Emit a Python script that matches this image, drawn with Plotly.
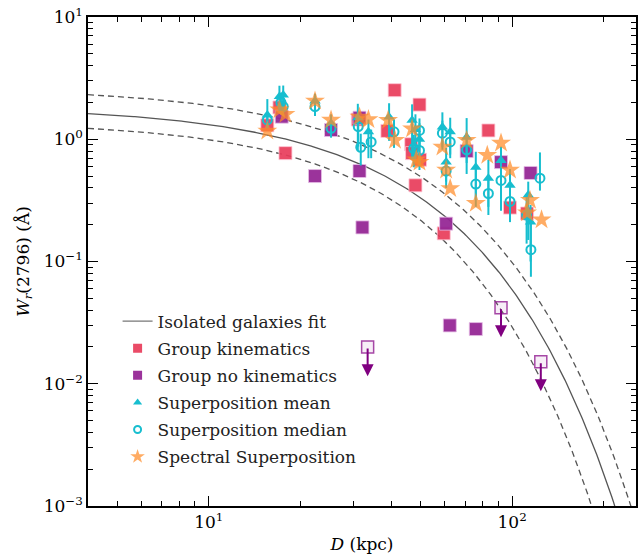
import numpy as np
import plotly.graph_objects as go

# ---------------- data ----------------
# Group kinematics (filled red squares)
gk_D = [15.6, 17.1, 17.9, 31.0, 38.8, 41.0, 46.5, 46.8, 48.0, 49.5, 49.7, 59.5, 83.5, 98.4, 112.0]
gk_W = [1.30, 1.82, 0.77, 1.45, 1.17, 2.52, 0.91, 0.77, 0.42, 1.92, 0.68, 0.17, 1.18, 0.276, 0.247]

# Group no kinematics (filled purple squares)
gn_D = [17.4, 22.4, 25.3, 31.4, 31.4, 32.1, 60.6, 62.3, 70.8, 75.9, 91.9, 115.0]
gn_W = [1.53, 0.50, 1.19, 1.50, 0.55, 0.19, 0.204, 0.030, 0.80, 0.028, 0.65, 0.53]

# Group no kinematics upper limits (open squares with arrows)
gl_D = [33.4, 91.9, 124.3]
gl_W = [0.0200, 0.0418, 0.0151]

# Superposition mean (triangles) with error bars
sm_D = [15.6, 17.1, 17.6, 22.4, 25.3, 31.0, 33.6, 39.3, 46.8, 48.0, 49.5, 58.9, 60.6, 62.5,
        70.8, 75.9, 83.5, 91.9, 98.4, 113.0, 115.0]
sm_W = [1.58, 2.24, 2.30, 2.06, 1.35, 1.50, 1.15, 1.52, 1.43, 1.20, 1.00, 1.26, 0.65, 1.15,
        1.04, 0.59, 0.48, 0.67, 0.42, 0.35, 0.21]
sm_up = [0.55, 0.50, 0.45, 0.30, 0.25, 0.45, 0.30, 0.45, 0.50, 0.40, 0.35, 0.40, 0.20, 0.35,
         0.45, 0.20, 0.20, 0.20, 0.15, 0.10, 0.08]
sm_dn = [0.35, 0.60, 0.55, 0.35, 0.25, 0.70, 0.45, 0.55, 0.75, 0.55, 0.40, 0.40, 0.25, 0.40,
         0.40, 0.25, 0.20, 0.40, 0.15, 0.20, 0.11]

# Superposition median (open circles)
sd_D = [15.6, 17.3, 17.6, 22.4, 25.3, 31.1, 31.7, 34.3, 40.8, 47.4, 49.5, 49.5, 58.9, 62.5,
        60.6, 70.8, 75.9, 83.5, 91.9, 98.4, 111.6, 115.3, 123.5]
sd_W = [1.44, 2.00, 1.85, 1.85, 1.23, 1.27, 0.86, 0.95, 1.15, 0.84, 1.18, 0.81, 1.12, 0.95,
        0.55, 0.82, 0.43, 0.36, 0.46, 0.31, 0.24, 0.125, 0.48]
sd_up = [0.20, 0.40, 0.30, 0.30, 0.20, 0.30, 0.25, 0.25, 0.30, 0.25, 0.30, 0.25, 0.30, 0.25,
         0.10, 0.30, 0.15, 0.12, 0.20, 0.10, 0.10, 0.09, 0.30]
sd_dn = [0.20, 0.40, 0.30, 0.30, 0.20, 0.40, 0.25, 0.25, 0.30, 0.25, 0.30, 0.25, 0.30, 0.25,
         0.10, 0.30, 0.15, 0.12, 0.20, 0.10, 0.10, 0.05, 0.10]

# Spectral superposition (stars)
ss_D = [15.6, 17.1, 17.9, 22.4, 25.3, 31.4, 33.6, 39.0, 41.1, 46.8, 48.3, 49.5, 58.9, 60.6,
        62.5, 70.8, 75.9, 82.8, 91.9, 98.4, 114.5, 112.0, 125.0]
ss_W = [1.17, 1.74, 1.60, 2.06, 1.44, 1.52, 1.45, 1.43, 0.98, 1.22, 0.68, 0.65, 0.865, 0.56,
        0.395, 0.98, 0.30, 0.74, 0.93, 0.56, 0.317, 0.25, 0.22]

# Isolated galaxies fit: log10 W = a + b D ; band half-widths sqrt(sa^2 + (D sb)^2)
fit_ab = [0.27, -0.015]
band_up = [0.155, 0.0016]
band_dn = [0.12, 0.0028]

x_tickvals = [10, 100]
x_ticktext = ["10<sup>1</sup>", "10<sup>2</sup>"]
y_tickvals = [1e-3, 1e-2, 1e-1, 1, 10]
y_ticktext = ["10<sup>\u22123</sup>", "10<sup>\u22122</sup>", "10<sup>\u22121</sup>",
              "10<sup>0</sup>", "10<sup>1</sup>"]

legend_names = ["Isolated galaxies fit", "Group kinematics", "Group no kinematics",
                "Superposition mean", "Superposition median", "Spectral Superposition"]

# --------------- figure ---------------
FONT = "DejaVu Serif"
RED = "rgba(232,60,90,0.92)"
PURPLE = "rgba(150,40,150,0.95)"
CYAN = "#17becf"
ORANGE = "rgba(255,140,40,0.72)"
GRAY = "#555555"

Dg = np.logspace(np.log10(4.0), np.log10(260.0), 400)
base = fit_ab[0] + fit_ab[1] * Dg
up = base + np.sqrt(band_up[0] ** 2 + (Dg * band_up[1]) ** 2)
dn = base - np.sqrt(band_dn[0] ** 2 + (Dg * band_dn[1]) ** 2)

fig = go.Figure()
fig.add_trace(go.Scatter(x=Dg, y=10 ** base, mode="lines", showlegend=False,
                         line=dict(color=GRAY, width=1.3)))
fig.add_trace(go.Scatter(x=Dg, y=10 ** up, mode="lines", showlegend=False,
                         line=dict(color=GRAY, width=1.3, dash="6px,4px")))
fig.add_trace(go.Scatter(x=Dg, y=10 ** dn, mode="lines", showlegend=False,
                         line=dict(color=GRAY, width=1.3, dash="6px,4px")))

fig.add_trace(go.Scatter(x=gk_D, y=gk_W, mode="markers", showlegend=False,
                         marker=dict(symbol="square", size=13, color=RED,
                                     line=dict(color="rgba(255,200,215,0.8)", width=1))))
fig.add_trace(go.Scatter(x=gn_D, y=gn_W, mode="markers", showlegend=False,
                         marker=dict(symbol="square", size=13, color=PURPLE,
                                     line=dict(color="rgba(230,190,230,0.8)", width=1))))
fig.add_trace(go.Scatter(x=gl_D, y=gl_W, mode="markers", showlegend=False,
                         marker=dict(symbol="square", size=12, color="rgba(150,40,150,0.08)",
                                     line=dict(color="rgba(150,40,150,0.85)", width=1.5))))

fig.add_trace(go.Scatter(x=sm_D, y=sm_W, mode="markers", showlegend=False,
                         error_y=dict(type="data", symmetric=False, array=sm_up, arrayminus=sm_dn,
                                      color=CYAN, thickness=2, width=0),
                         marker=dict(symbol="triangle-up", size=10, color=CYAN)))
fig.add_trace(go.Scatter(x=sd_D, y=sd_W, mode="markers", showlegend=False,
                         error_y=dict(type="data", symmetric=False, array=sd_up, arrayminus=sd_dn,
                                      color=CYAN, thickness=2, width=0),
                         marker=dict(symbol="circle-open", size=9, color=CYAN,
                                     line=dict(width=2, color=CYAN))))
fig.add_trace(go.Scatter(x=ss_D, y=ss_W, mode="markers", showlegend=False,
                         marker=dict(symbol="star", size=15, color=ORANGE, line=dict(width=0))))

# legend-only entries with smaller symbols (as in the reference legend)
leg_styles = [
    dict(mode="lines", line=dict(color=GRAY, width=1)),
    dict(mode="markers", marker=dict(symbol="square", size=9, color=RED)),
    dict(mode="markers", marker=dict(symbol="square", size=9, color=PURPLE)),
    dict(mode="markers", marker=dict(symbol="triangle-up", size=8, color=CYAN)),
    dict(mode="markers", marker=dict(symbol="circle-open", size=7, color=CYAN,
                                     line=dict(width=2, color=CYAN))),
    dict(mode="markers", marker=dict(symbol="star", size=11, color=ORANGE, line=dict(width=0))),
]
for i, (nm, st) in enumerate(zip(legend_names, leg_styles)):
    fig.add_trace(go.Scatter(x=[None], y=[None], name=nm, legendgroup="g%d" % i, **st))

for d, w in zip(gl_D, gl_W):
    fig.add_annotation(x=np.log10(d), y=np.log10(w) - 0.24, ax=np.log10(d), ay=np.log10(w),
                       xref="x", yref="y", axref="x", ayref="y", text="", showarrow=True,
                       arrowhead=2, arrowsize=1.2, arrowwidth=2, arrowcolor="#800080")

axis_common = dict(type="log", showline=True, linecolor="black", linewidth=1.5, automargin=False,
                   mirror="ticks", ticks="inside", ticklen=10, tickwidth=1.2, tickcolor="black",
                   showgrid=False, zeroline=False, ticklabeloverflow="allow",
                   tickfont=dict(family=FONT, size=17, color="black"))

minor_x = [m * 10 ** k for k in range(0, 3) for m in range(2, 10)]
minor_y = [m * 10.0 ** k for k in range(-3, 1) for m in range(2, 10)]

fig.update_xaxes(**axis_common, range=[np.log10(4.0), np.log10(256.0)],
                 tickmode="array", tickvals=x_tickvals, ticktext=x_ticktext,
                 minor=dict(tickmode="array", tickvals=minor_x, ticks="inside", ticklen=5,
                            tickwidth=1, tickcolor="black", showgrid=False),
                 title=dict(text="<i>D</i> (kpc)", font=dict(family=FONT, size=17, color="black"),
                            standoff=7))
fig.update_yaxes(**axis_common, range=[-3, 1],
                 tickmode="array", tickvals=y_tickvals, ticktext=y_ticktext,
                 minor=dict(tickmode="array", tickvals=minor_y, ticks="inside", ticklen=5,
                            tickwidth=1, tickcolor="black", showgrid=False),
                 title=dict(text="<i>W</i><sub><i>r</i></sub>(2796) (\u00c5)",
                            font=dict(family=FONT, size=17, color="black"), standoff=10))

fig.update_layout(
    width=641, height=557,
    margin=dict(l=88, r=5, t=17, b=51),
    paper_bgcolor="white", plot_bgcolor="white",
    font=dict(family=FONT, size=17, color="black"),
    hovermode=False,
    legend=dict(x=0.054, y=0.414, xanchor="left", yanchor="top",
                bgcolor="rgba(0,0,0,0)", borderwidth=0, tracegroupgap=2,
                itemsizing="trace", itemwidth=30,
                font=dict(family=FONT, size=17, color="#222")),
)

# remove the default 8px page margin so the figure sits at the window's corner
fig.write_html("out.html", config={"displayModeBar": False},
               post_script="document.body.style.margin='0';")
